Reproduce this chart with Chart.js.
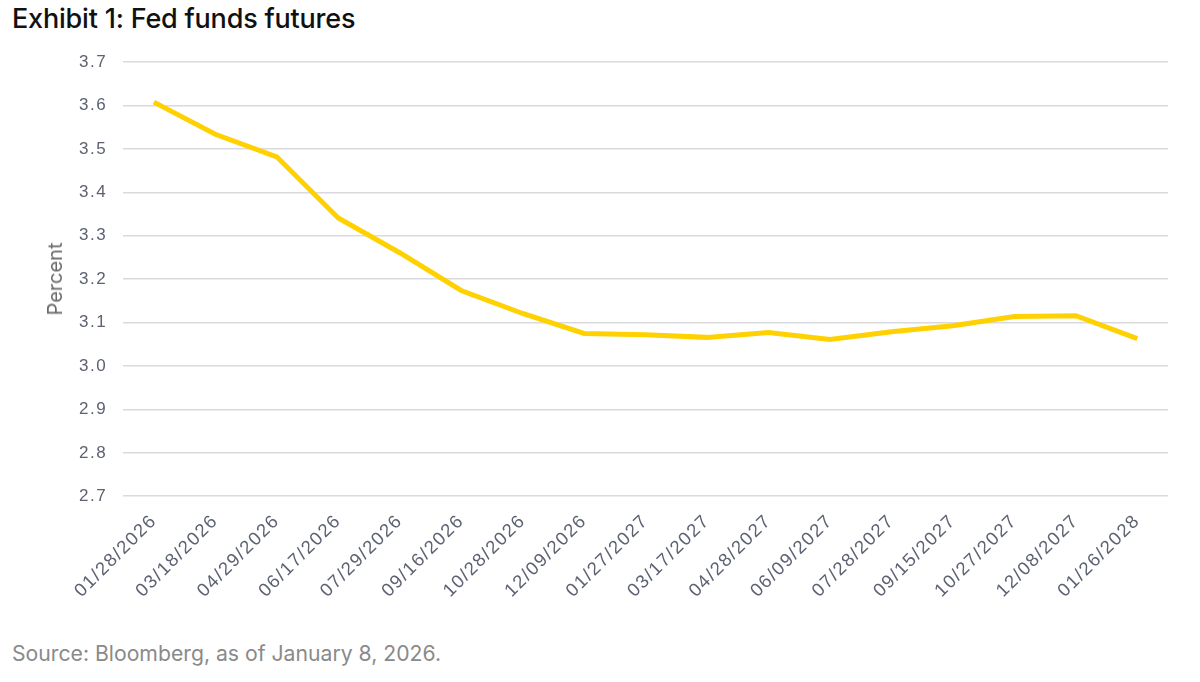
<!DOCTYPE html>
<html>
<head>
<meta charset="utf-8">
<script src="https://cdn.jsdelivr.net/npm/chart.js@4"></script>
<style>
  html, body { margin:0; padding:0; background:#fff; }
  body { width:1200px; height:682px; position:relative; overflow:hidden; }
  #title { position:absolute; left:12px; top:2px; font-family:"Inter","Open Sans",sans-serif; font-size:27px; font-weight:500; color:#111; letter-spacing:-0.2px; }
  #source { position:absolute; left:12px; top:640px; font-family:"Inter","Open Sans",sans-serif; font-size:21.2px; color:#8a8a8a; }
  #ytitle { position:absolute; left:55px; top:279px; transform:translate(-50%,-50%) rotate(-90deg); font-family:"Inter","Open Sans",sans-serif; font-size:20px; color:#6b6b6b; white-space:nowrap; line-height:1; }
  #wrap { position:absolute; left:0; top:36px; width:1200px; height:600px; }
</style>
</head>
<body>
<div id="title">Exhibit 1: Fed funds futures</div>
<div id="wrap"><canvas id="c"></canvas></div>
<div id="ytitle">Percent</div>
<div id="source">Source: Bloomberg, as of January 8, 2026.</div>
<script>
const categories = ["01/28/2026","03/18/2026","04/29/2026","06/17/2026","07/29/2026","09/16/2026","10/28/2026","12/09/2026","01/27/2027","03/17/2027","04/28/2027","06/09/2027","07/28/2027","09/15/2027","10/27/2027","12/08/2027","01/26/2028"];
const futuresRate = [3.608,3.534,3.482,3.341,3.261,3.174,3.121,3.075,3.072,3.066,3.077,3.061,3.079,3.093,3.114,3.116,3.063];
const yMin = 2.7, yMax = 3.7, yStep = 0.1;

const spacing = {
  id: 'spacing',
  beforeLayout(chart) { chart.ctx.letterSpacing = '1.5px'; },
  beforeDraw(chart) { chart.ctx.letterSpacing = '1.5px'; }
};

new Chart(document.getElementById('c'), {
  type: 'line',
  data: {
    labels: categories,
    datasets: [{
      label: 'Fed funds futures',
      data: futuresRate,
      borderColor: '#FFD100',
      borderWidth: 5,
      pointRadius: 0,
      tension: 0,
      fill: false
    }]
  },
  plugins: [spacing],
  options: {
    responsive: true,
    maintainAspectRatio: false,
    animation: false,
    layout: { padding: { top: 8, right: 32, bottom: 20, left: 63 } },
    plugins: { legend: { display: false }, tooltip: { enabled: false } },
    scales: {
      x: {
        offset: true,
        grid: { display: false, drawTicks: false },
        border: { display: false },
        ticks: {
          minRotation: 45, maxRotation: 45, autoSkip: false,
          color: '#5c6272', padding: 14,
          font: { family: '"Liberation Sans", Arial, sans-serif', size: 18.5 }
        }
      },
      y: {
        min: yMin, max: yMax,
        grid: { color: '#d9d9de', lineWidth: 1.5, drawTicks: false },
        border: { display: false },
        ticks: {
          stepSize: yStep, padding: 16, color: '#5c6272',
          font: { family: '"Liberation Sans", Arial, sans-serif', size: 17 },
          callback: v => Number(v).toFixed(1)
        }
      }
    }
  }
});
</script>
</body>
</html>
